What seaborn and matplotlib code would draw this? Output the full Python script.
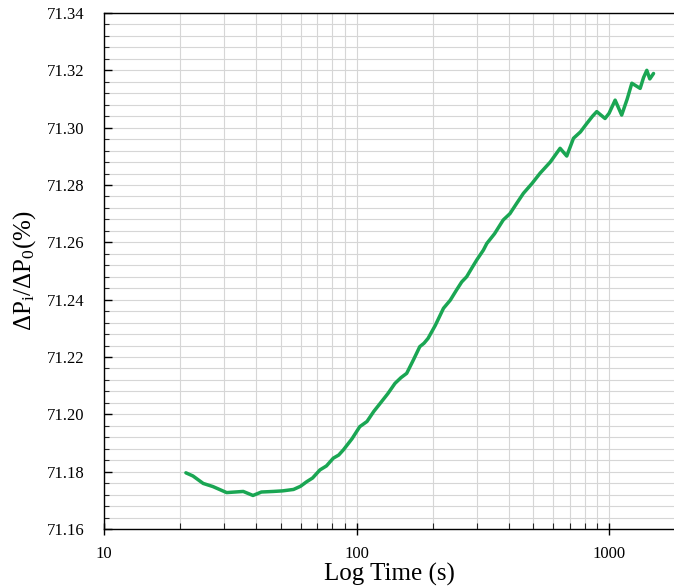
import matplotlib
matplotlib.use("Agg")
import matplotlib.pyplot as plt
import seaborn as sns
import pandas as pd
from matplotlib.ticker import LogLocator, FixedLocator, MultipleLocator, FuncFormatter, NullFormatter

time_s = [21.1, 22.5, 24.7, 27, 30.6, 33, 35.6, 38.9, 42, 46.8, 51, 56.3, 60, 63.5, 67,
          71.6, 76, 80.9, 85, 88.7, 96, 103, 110, 117, 124, 133, 142, 150, 158, 168,
          178, 185, 192, 205, 221, 235, 249, 261, 273, 286, 299, 318, 328, 352, 381,
          405, 430, 458, 495, 533, 585, 640, 680, 723, 770, 817, 860, 894, 964, 1000,
          1057, 1122, 1180, 1231, 1328, 1370, 1411, 1450, 1500]
ratio = [71.1796, 71.1785, 71.1759, 71.1748, 71.1727, 71.1729, 71.1731, 71.1717, 71.1729,
         71.1731, 71.1733, 71.1738, 71.1749, 71.1765, 71.1778, 71.1806, 71.1820, 71.1847,
         71.1858, 71.1876, 71.1915, 71.1957, 71.1975, 71.2010, 71.2038, 71.2072, 71.2108,
         71.2128, 71.2143, 71.2190, 71.2236, 71.2248, 71.2265, 71.2310, 71.2370, 71.2398,
         71.2434, 71.2462, 71.2480, 71.2510, 71.2538, 71.2573, 71.2596, 71.2630, 71.2678,
         71.2700, 71.2735, 71.2771, 71.2805, 71.2841, 71.2880, 71.2928, 71.2901, 71.2963,
         71.2985, 71.3015, 71.3040, 71.3056, 71.3032, 71.3050, 71.3096, 71.3044, 71.3100,
         71.3155, 71.3137, 71.3175, 71.3200, 71.3170, 71.3189]

y_ticks = [71.16, 71.18, 71.20, 71.22, 71.24, 71.26, 71.28, 71.30, 71.32, 71.34]
x_ticks = [10, 100, 1000]

df = pd.DataFrame({"time": time_s, "ratio": ratio})

sns.set_theme(style="white")
plt.rcParams["font.family"] = ["Liberation Serif", "DejaVu Serif"]
plt.rcParams["mathtext.fontset"] = "custom"
plt.rcParams["mathtext.rm"] = "Liberation Serif"
plt.rcParams["mathtext.it"] = "Liberation Serif:italic"

fig = plt.figure(figsize=(6.74, 5.86), dpi=100)
ax = fig.add_axes([104 / 674, 1 - 529 / 586, 1 - 104 / 674, (529 - 13) / 586])

sns.lineplot(data=df, x="time", y="ratio", ax=ax, color="#1aa653", linewidth=2.5)

ax.set_xscale("log")
ax.set_xlim(10, 1808)
ax.set_ylim(71.16, 71.34)

ax.xaxis.set_major_locator(FixedLocator(x_ticks))
ax.xaxis.set_major_formatter(FuncFormatter(lambda v, p: f"{v:g}"))
ax.xaxis.set_minor_locator(LogLocator(base=10, subs=range(2, 10)))
ax.xaxis.set_minor_formatter(NullFormatter())
ax.yaxis.set_major_locator(FixedLocator(y_ticks))
ax.yaxis.set_major_formatter(FuncFormatter(lambda v, p: f"{v:.2f}"))
ax.yaxis.set_minor_locator(MultipleLocator(0.004))

ax.grid(True, which="both", axis="both", color="#d6d6d6", linewidth=0.8)
ax.set_axisbelow(True)

for s in ["left", "bottom", "top"]:
    ax.spines[s].set_visible(True)
    ax.spines[s].set_color("black")
    ax.spines[s].set_linewidth(1.0)
ax.spines["right"].set_visible(False)

ax.tick_params(axis="y", which="major", direction="in", length=6, width=1, colors="black",
               labelsize=12, pad=14, left=True)
ax.tick_params(axis="y", which="minor", direction="in", length=3.5, width=0.8, left=True)
ax.tick_params(axis="x", which="major", direction="inout", length=8, width=1, colors="black",
               labelsize=12, pad=8, bottom=True)
ax.tick_params(axis="x", which="minor", direction="in", length=4, width=0.8, bottom=True)

ax.set_xlabel("Log Time (s)", fontsize=18, color="black", labelpad=1)
ax.set_ylabel(r"$\mathrm{\Delta P_i/\Delta P_0(\%)}$", fontsize=18, color="black", labelpad=6)

fig.savefig("out.png", dpi=100)
